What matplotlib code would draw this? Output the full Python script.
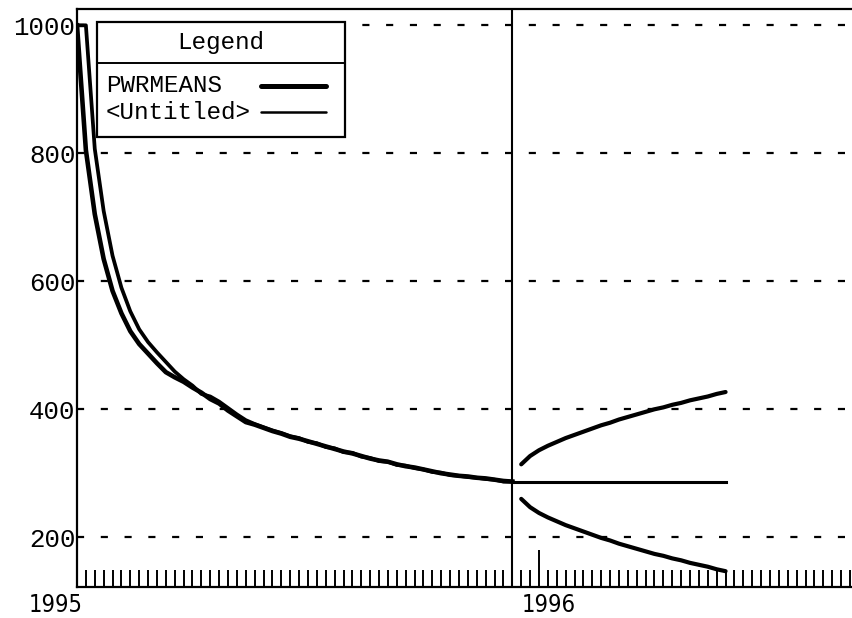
import matplotlib
matplotlib.use("Agg")
import matplotlib.pyplot as plt
import numpy as np
from matplotlib.lines import Line2D
from matplotlib.patches import Rectangle

# ---------------- data (weekly, week 0 = first week of 1995) ----------------
pwrmeans = [1000, 805, 705, 635, 585, 550, 522, 502, 487, 472,
            458, 450, 443, 434, 426, 416, 409, 398, 389, 380,
            376, 371, 366, 362, 357, 354, 350, 346, 342, 338,
            334, 331, 327, 323, 320, 318, 314, 311, 309, 306,
            303, 300, 298, 296, 295, 293, 292, 290, 288, 287]
untitled = [1000, 1000, 807, 710, 640, 590, 553, 525, 505, 489,
            474, 459, 447, 437, 424, 420, 412, 402, 392, 383,
            377, 372, 367, 363, 358, 355, 349, 347, 341, 339,
            333, 332, 326, 324, 319, 318, 313, 312, 308, 306,
            302, 301, 297, 296, 294, 293, 291, 290, 287, 287]
forecast_mid = [287, 287, 287, 287, 287, 287, 287, 287, 287, 287,
                287, 287, 287, 287, 287, 287, 287, 287, 287, 287,
                287, 287, 287, 287, 287]          # weeks 49..73
forecast_upper = [314, 327, 336, 343, 349, 355, 360, 365, 370, 375,
                  379, 384, 388, 392, 396, 400, 403, 407, 410, 414,
                  417, 420, 424, 427]              # weeks 50..73
forecast_lower = [260, 247, 238, 231, 225, 219, 214, 209, 204, 199,
                  195, 190, 186, 182, 178, 174, 171, 167, 164, 160,
                  157, 154, 150, 147]              # weeks 50..73
series_names = ["PWRMEANS", "<Untitled>"]
year_labels = ["1995", "1996"]
year_weeks = [0, 52]
y_ticks = [200, 400, 600, 800, 1000]
n_weeks_axis = 88
history_end_week = 49
forecast_start_week = 50

MONO = ["Liberation Mono", "DejaVu Sans Mono"]

# ---------------- figure ----------------
W, H = 853, 618
fig = plt.figure(figsize=(W / 100, H / 100), dpi=100)
fig.patch.set_facecolor("white")
ax = fig.add_axes([77 / W, 1 - 587 / H, 1 - 77 / W + 0.002, (587 - 9) / H])

wk_hist = np.arange(len(pwrmeans))
ax.plot(wk_hist, pwrmeans, color="black", lw=3.3, solid_joinstyle="round", zorder=4)
ax.plot(np.arange(len(untitled)), untitled, color="black", lw=2.7, zorder=4)

wk_mid = np.arange(history_end_week, history_end_week + len(forecast_mid))
ax.plot(wk_mid, forecast_mid, color="black", lw=2.2, zorder=4)
wk_fc = np.arange(forecast_start_week, forecast_start_week + len(forecast_upper))
ax.plot(wk_fc, forecast_upper, color="black", lw=3.0, solid_capstyle="round", zorder=4)
ax.plot(wk_fc, forecast_lower, color="black", lw=3.0, solid_capstyle="round", zorder=4)

ax.axvline(history_end_week, color="black", lw=1.5, zorder=3)

ax.set_xlim(0, (W - 77) / 8.865)
ax.set_ylim(122.3, 1025.5)

# gridlines
for v in y_ticks:
    ax.axhline(v, color="black", lw=1.6, linestyle=(0, (3.2, 7.5)), zorder=2)

# y tick labels
ax.set_yticks(y_ticks)
ax.set_yticklabels([str(v) for v in y_ticks], fontfamily=MONO, fontsize=18.5)
ax.tick_params(axis="y", length=0, pad=1)

# x ticks: weekly minor ticks pointing inward, tall tick at year start
ax.set_xticks([year_weeks[1]])
ax.set_xticklabels([""])
ax.set_xticks([w for w in range(1, n_weeks_axis) if w not in year_weeks], minor=True)
ax.tick_params(axis="x", which="major", direction="in", length=27, width=1.4)
ax.tick_params(axis="x", which="minor", direction="in", length=12.5, width=1.4)

trans = ax.get_xaxis_transform()
label_offsets = [-2.4, 1.1]
for lab, w, off in zip(year_labels, year_weeks, label_offsets):
    ax.text(w + off, -0.031, lab, transform=trans, ha="center", va="center",
            fontsize=17, family=["DejaVu Sans"], fontstretch="condensed")

for s in ["left", "bottom", "top"]:
    ax.spines[s].set_linewidth(1.6)
ax.spines["right"].set_visible(False)

# ---------------- legend (drawn manually in figure pixels) ----------------
def fx(px):
    return px / W

def fy(py):
    return 1 - py / H

box = Rectangle((fx(97), fy(137)), fx(345) - fx(97), fy(22) - fy(137),
                transform=fig.transFigure, facecolor="white", edgecolor="black",
                lw=1.6, zorder=10)
fig.add_artist(box)
fig.add_artist(Line2D([fx(97), fx(345)], [fy(63), fy(63)], transform=fig.transFigure,
                      color="black", lw=1.4, zorder=11))
fig.text(fx(221), fy(43), "Legend", ha="center", va="center", fontsize=17.5,
         family=MONO, zorder=12)
leg_rows = [(86, 3.6), (112, 1.8)]
for name, (py, lw) in zip(series_names, leg_rows):
    fig.text(fx(106), fy(py), name, ha="left", va="center", fontsize=17.5,
             family=MONO, zorder=12)
    fig.add_artist(Line2D([fx(261), fx(326)], [fy(py), fy(py)], transform=fig.transFigure,
                          color="black", lw=lw, solid_capstyle="round", zorder=12))

fig.savefig("out.png", dpi=100, facecolor="white")
